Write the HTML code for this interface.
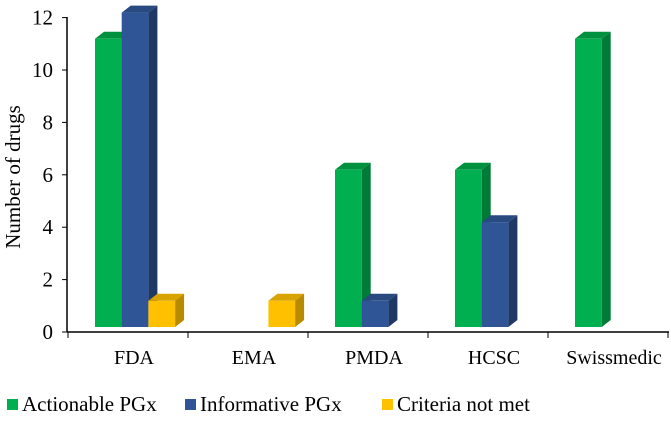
<!DOCTYPE html>
<html><head><meta charset="utf-8"><style>
body{margin:0;background:#fff}
svg text{font-family:"Liberation Serif",serif;font-size:20px;fill:#000}
</style></head><body>
<svg width="671" height="416">
<g id="axes"></g><g id="bars"></g>
<text transform="translate(20,177) rotate(-90)" text-anchor="middle" style="font-size:21px">Number of drugs</text>
<g style="font-size:21px">
<rect x="7" y="399" width="11" height="11" fill="#00b050"/>
<text x="22" y="411" style="font-size:21px">Actionable PGx</text>
<rect x="185" y="399" width="11" height="11" fill="#2f5597"/>
<text x="200" y="411" style="font-size:21px">Informative PGx</text>
<rect x="382" y="399" width="11" height="11" fill="#ffc000"/>
<text x="397" y="411" style="font-size:21px">Criteria not met</text>
</g>
</svg>
<script>
const categories=["FDA","EMA","PMDA","HCSC","Swissmedic"];
const actionable=[11,0,6,6,11];
const informative=[12,0,1,4,0];
const criteriaNotMet=[1,1,0,0,0];
const yTicks=[0,2,4,6,8,10,12];
const NS="http://www.w3.org/2000/svg";
const axes=document.getElementById('axes'),bars=document.getElementById('bars');
function mk(tag,attrs,parent){const e=document.createElementNS(NS,tag);for(const k in attrs)e.setAttribute(k,attrs[k]);parent.appendChild(e);return e;}
const x0=68,band=120;
const yLab=v=>332-v*26.2;
const yBar=v=>327-v*26.2;
const yl=mk('line',{x1:67,y1:17,x2:67,y2:332,stroke:'#000','stroke-width':1.5},axes);


const xl=mk('line',{x1:67,y1:332,x2:669,y2:332,stroke:'#000','stroke-width':1.5},axes);


yTicks.forEach(v=>{
 const y=yLab(v);
 mk('line',{x1:62,y1:y,x2:67,y2:y,stroke:'#000'},axes);
 const t=mk('text',{x:53,y:y+7,'text-anchor':'end',style:'font-size:21px'},axes);t.textContent=v;
 
 
});
categories.forEach((c,i)=>{
 const xb=x0+band*i;
 mk('line',{x1:xb,y1:332,x2:xb,y2:338,stroke:'#000'},axes);
 if(i==categories.length-1)mk('line',{x1:xb+band,y1:332,x2:xb+band,y2:338,stroke:'#000'},axes);
 const t=mk('text',{x:xb+band/2+6,y:364,'text-anchor':'middle'},axes);t.textContent=c;
 
 
});
const series=[[actionable,'#00b050','#00913f','#007a37','actionable'],[informative,'#2f5597','#284a80','#1f3864','informative'],[criteriaNotMet,'#ffc000','#d9a300','#b88a00','criteria']];
const w=26.7,dx=9,dy=7;
categories.forEach((c,i)=>{
 series.forEach((s,j)=>{
  const v=s[0][i]; if(!v)return;
  const x=x0+band*i+27+j*w, yt=yBar(v), yb=yBar(0);
  const g=mk('g',{},bars);
  
  
  mk('polygon',{points:`${x+w},${yt} ${x+w+dx},${yt-dy} ${x+w+dx},${yb-dy} ${x+w},${yb}`,fill:s[3]},g);
  mk('polygon',{points:`${x},${yt} ${x+dx},${yt-dy} ${x+w+dx},${yt-dy} ${x+w},${yt}`,fill:s[2]},g);
  mk('rect',{x:x,y:yt,width:w,height:yb-yt,fill:s[1]},g);
 });
});
</script>
</body></html>
